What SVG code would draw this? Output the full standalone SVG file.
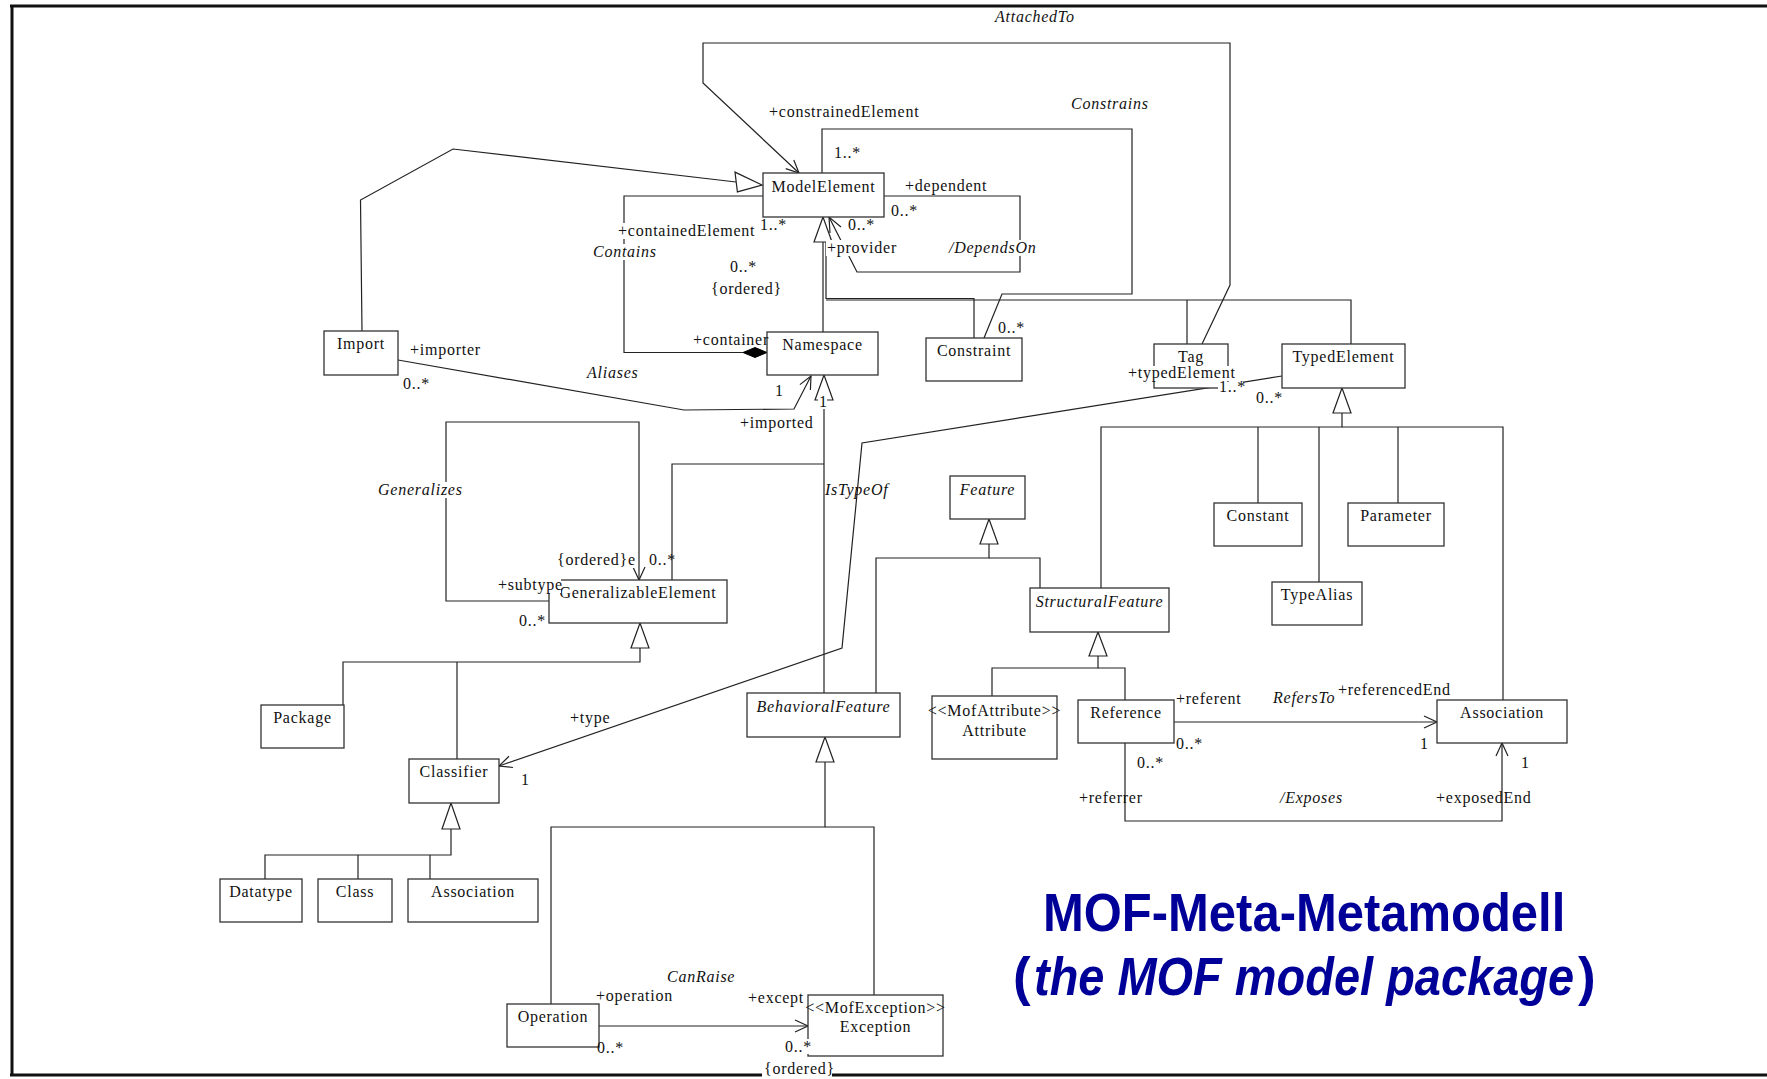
<svg xmlns="http://www.w3.org/2000/svg" width="1767" height="1079" viewBox="0 0 1767 1079">
  <style>
    .frame { fill: none; stroke: #111; stroke-width: 3; }
    .node rect { fill: #fff; stroke: #333; stroke-width: 1.3; }
    .node text { font-family: "Liberation Serif", "Times New Roman", serif; font-size: 16px; letter-spacing: 0.75px; fill: #111; text-anchor: middle; }
    .lbl { font-family: "Liberation Serif", "Times New Roman", serif; font-size: 16px; letter-spacing: 0.75px; fill: #111; }
    .it { font-style: italic; }
    .connectors polyline, .connectors line { fill: none; stroke: #222; stroke-width: 1.2; }
    .connectors .tri { fill: #fff; stroke: #222; stroke-width: 1.2; }
    .connectors .dia { fill: #000; stroke: #000; stroke-width: 1; }
    .bg { fill: #fff; }
    .title { font-family: "Liberation Sans", Arial, sans-serif; font-size: 53px; font-weight: bold; fill: #000099; }
  </style>

  <!-- page frame -->
  <g id="frame">
    <line class="frame" x1="10" y1="6" x2="1767" y2="6"/>
    <line class="frame" x1="12" y1="5" x2="12" y2="1076"/>
    <line class="frame" x1="10" y1="1075" x2="1767" y2="1075"/>
  </g>

  <!-- associations and generalizations -->
  <g id="connectors" class="connectors">
    <!-- AttachedTo: Tag -> ModelElement -->
    <polyline points="1202,344 1230,285 1230,43 703,43 703,83 799,173"/>
    <polyline points="793.8,160 799,173 785.7,168.6"/>
    <!-- Constrains: Constraint -> ModelElement -->
    <polyline points="984,338 1002,294 1132,294 1132,129 822,129 822,173"/>
    <!-- DependsOn (self association) -->
    <polyline points="884,196 1020,196 1020,272 857,272 829,217"/>
    <polyline points="830,233 829,217 841,227"/>
    <!-- Contains: Namespace (composite) - ModelElement -->
    <polyline points="763,196 624,196 624,352.5 743,352.5"/>
    <polygon class="dia" points="767,352.5 755,347.5 743,352.5 755,357.5"/>
    <!-- Import generalizes ModelElement -->
    <polyline points="362,331 360.5,200 453,149 736,182"/>
    <polygon class="tri" points="762,185 735,172.1 737.4,191.9"/>
    <!-- Aliases: Import -> Namespace -->
    <polyline points="398,360 684,410 794,409 811,376"/>
    <polyline points="799.9,384.6 811,376 810.4,390"/>
    <!-- ModelElement subclasses -->
    <line x1="823" y1="242" x2="823" y2="332"/>
    <polyline points="826,242 826,298.5 974,298.5 974,338"/>
    <polyline points="826,300 1351,300 1351,344"/>
    <line x1="1187" y1="300" x2="1187" y2="344"/>
    <polygon class="tri" points="823,217 814,242 832,242"/>
    <!-- Namespace subclasses -->
    <line x1="824" y1="400" x2="824" y2="693"/>
    <polyline points="824,464 672,464 672,580"/>
    <polygon class="tri" points="824,375 815,400 833,400"/>
    <!-- Generalizes: GeneralizableElement self association -->
    <polyline points="549,601 446,601 446,422 639,422 639,580"/>
    <polyline points="633,567 639,580 645,567"/>
    <!-- GeneralizableElement subclasses -->
    <polyline points="640,648 640,662 343,662 343,705"/>
    <line x1="457" y1="662" x2="457" y2="759"/>
    <polygon class="tri" points="640,623 631,648 649,648"/>
    <!-- Classifier subclasses -->
    <polyline points="451,829 451,855 265,855 265,879"/>
    <line x1="358" y1="855" x2="358" y2="879"/>
    <line x1="430" y1="855" x2="430" y2="879"/>
    <polygon class="tri" points="451,803 442,829 460,829"/>
    <!-- IsTypeOf: TypedElement -> Classifier -->
    <polyline points="1282,376 862,443 842,648 499,766"/>
    <polyline points="509,756.3 499,766 513,767.5"/>
    <!-- Feature subclasses -->
    <polyline points="989,544 989,558 876,558 876,693"/>
    <polyline points="989,558 1040,558 1040,588"/>
    <polygon class="tri" points="989,519 980,544 998,544"/>
    <!-- TypedElement subclasses -->
    <polyline points="1342,413 1342,427 1101,427 1101,588"/>
    <polyline points="1342,427 1503,427 1503,700"/>
    <line x1="1258" y1="427" x2="1258" y2="503"/>
    <line x1="1319" y1="427" x2="1319" y2="582"/>
    <line x1="1398" y1="427" x2="1398" y2="503"/>
    <polygon class="tri" points="1342,388 1333,413 1351,413"/>
    <!-- StructuralFeature subclasses -->
    <polyline points="1098,656 1098,668 992,668 992,696"/>
    <polyline points="1098,668 1125,668 1125,700"/>
    <polygon class="tri" points="1098,632 1089,656 1107,656"/>
    <!-- RefersTo: Reference -> Association -->
    <line x1="1174" y1="722" x2="1437" y2="722"/>
    <polyline points="1424,716 1437,722 1424,728"/>
    <!-- Exposes: Reference -> Association -->
    <polyline points="1125,743 1125,821 1502,821 1502,743"/>
    <polyline points="1496,756 1502,743 1508,756"/>
    <!-- BehavioralFeature subclasses -->
    <polyline points="825,762 825,827 551,827 551,1004"/>
    <polyline points="825,827 874,827 874,995"/>
    <polygon class="tri" points="825,737 816,762 834,762"/>
    <!-- CanRaise: Operation -> Exception -->
    <line x1="599" y1="1026" x2="808" y2="1026"/>
    <polyline points="795,1020 808,1026 795,1032"/>
  </g>

  <!-- classes -->
  <g id="ModelElement" class="node"><rect x="763" y="173" width="121" height="44"/><text x="823.5" y="192">ModelElement</text></g>
  <g id="Namespace" class="node"><rect x="767" y="332" width="111" height="43"/><text x="822.5" y="350">Namespace</text></g>
  <g id="Import" class="node"><rect x="324" y="331" width="74" height="44"/><text x="361" y="349">Import</text></g>
  <g id="Constraint" class="node"><rect x="926" y="338" width="96" height="43"/><text x="974" y="356">Constraint</text></g>
  <g id="Tag" class="node"><rect x="1154" y="344" width="74" height="44"/><text x="1191" y="362">Tag</text></g>
  <g id="TypedElement" class="node"><rect x="1282" y="344" width="123" height="44"/><text x="1343.5" y="362">TypedElement</text></g>
  <g id="GeneralizableElement" class="node"><rect x="549" y="580" width="178" height="43"/><text x="638" y="598">GeneralizableElement</text></g>
  <g id="Feature" class="node"><rect x="950" y="476" width="75" height="43"/><text class="it" x="987.5" y="495">Feature</text></g>
  <g id="StructuralFeature" class="node"><rect x="1030" y="588" width="139" height="44"/><text class="it" x="1099.5" y="607">StructuralFeature</text></g>
  <g id="Constant" class="node"><rect x="1214" y="503" width="88" height="43"/><text x="1258" y="521">Constant</text></g>
  <g id="Parameter" class="node"><rect x="1348" y="503" width="96" height="43"/><text x="1396" y="521">Parameter</text></g>
  <g id="TypeAlias" class="node"><rect x="1272" y="582" width="90" height="43"/><text x="1317" y="600">TypeAlias</text></g>
  <g id="Package" class="node"><rect x="261" y="705" width="83" height="43"/><text x="302.5" y="723">Package</text></g>
  <g id="Classifier" class="node"><rect x="409" y="759" width="90" height="44"/><text x="454" y="777">Classifier</text></g>
  <g id="Datatype" class="node"><rect x="220" y="879" width="82" height="43"/><text x="261" y="897">Datatype</text></g>
  <g id="Class" class="node"><rect x="318" y="879" width="74" height="43"/><text x="355" y="897">Class</text></g>
  <g id="AssociationClassifier" class="node"><rect x="408" y="879" width="130" height="43"/><text x="473" y="897">Association</text></g>
  <g id="BehavioralFeature" class="node"><rect x="747" y="693" width="153" height="44"/><text class="it" x="823.5" y="712">BehavioralFeature</text></g>
  <g id="Attribute" class="node"><rect x="932" y="696" width="125" height="63"/><text x="994.5" y="716">&lt;&lt;MofAttribute&gt;&gt;</text><text x="994.5" y="736">Attribute</text></g>
  <g id="Reference" class="node"><rect x="1078" y="700" width="96" height="43"/><text x="1126" y="718">Reference</text></g>
  <g id="Association" class="node"><rect x="1437" y="700" width="130" height="43"/><text x="1502" y="718">Association</text></g>
  <g id="Operation" class="node"><rect x="507" y="1004" width="92" height="43"/><text x="553" y="1022">Operation</text></g>
  <g id="Exception" class="node"><rect x="808" y="995" width="135" height="61"/><text x="875.5" y="1013">&lt;&lt;MofException&gt;&gt;</text><text x="875.5" y="1032">Exception</text></g>

  <!-- association names, role names and multiplicities -->
  <g id="labels">
    <rect class="bg" x="617" y="223" width="140" height="16"/>
    <rect class="bg" x="592" y="244" width="63" height="16"/>
    <rect class="bg" x="948" y="240" width="90" height="16"/>
    <rect class="bg" x="826" y="240" width="67" height="16"/>
    <rect class="bg" x="1127" y="366" width="108" height="15"/>
    <rect class="bg" x="1218" y="382" width="25" height="11"/>
    <rect class="bg" x="818" y="397" width="9" height="12"/>
    <rect class="bg" x="377" y="482" width="87" height="16"/>
    <rect class="bg" x="497" y="578" width="64" height="15"/>
    <rect class="bg" x="556" y="553" width="78" height="15"/>
    <rect class="bg" x="762" y="1061" width="70" height="17"/>
    <rect class="bg" x="783" y="1039" width="26" height="15"/>

    <text class="lbl it" x="995" y="22">AttachedTo</text>
    <text class="lbl" x="769" y="117">+constrainedElement</text>
    <text class="lbl it" x="1071" y="109">Constrains</text>
    <text class="lbl" x="834" y="158">1..*</text>
    <text class="lbl" x="905" y="191">+dependent</text>
    <text class="lbl" x="891" y="216">0..*</text>
    <text class="lbl" x="848" y="230">0..*</text>
    <text class="lbl" x="827" y="253">+provider</text>
    <text class="lbl it" x="949" y="253">/DependsOn</text>
    <text class="lbl" x="618" y="236">+containedElement</text>
    <text class="lbl" x="760" y="230">1..*</text>
    <text class="lbl it" x="593" y="257">Contains</text>
    <text class="lbl" x="730" y="272">0..*</text>
    <text class="lbl" x="711" y="294">{ordered}</text>
    <text class="lbl" x="693" y="345">+container</text>
    <text class="lbl" x="410" y="355">+importer</text>
    <text class="lbl" x="403" y="389">0..*</text>
    <text class="lbl it" x="587" y="378">Aliases</text>
    <text class="lbl" x="775" y="396">1</text>
    <text class="lbl" x="819" y="407">1</text>
    <text class="lbl" x="740" y="428">+imported</text>
    <text class="lbl" x="998" y="333">0..*</text>
    <text class="lbl" x="1128" y="378">+typedElement</text>
    <text class="lbl" x="1219" y="392">1..*</text>
    <text class="lbl" x="1256" y="403">0..*</text>
    <text class="lbl it" x="378" y="495">Generalizes</text>
    <text class="lbl it" x="825" y="495">IsTypeOf</text>
    <text class="lbl" x="557" y="565">{ordered}e</text>
    <text class="lbl" x="649" y="565">0..*</text>
    <text class="lbl" x="498" y="590">+subtype</text>
    <text class="lbl" x="519" y="626">0..*</text>
    <text class="lbl" x="570" y="723">+type</text>
    <text class="lbl" x="521" y="785">1</text>
    <text class="lbl" x="1176" y="704">+referent</text>
    <text class="lbl it" x="1273" y="703">RefersTo</text>
    <text class="lbl" x="1338" y="695">+referencedEnd</text>
    <text class="lbl" x="1176" y="749">0..*</text>
    <text class="lbl" x="1420" y="749">1</text>
    <text class="lbl" x="1137" y="768">0..*</text>
    <text class="lbl" x="1521" y="768">1</text>
    <text class="lbl" x="1079" y="803">+referrer</text>
    <text class="lbl it" x="1280" y="803">/Exposes</text>
    <text class="lbl" x="1436" y="803">+exposedEnd</text>
    <text class="lbl it" x="667" y="982">CanRaise</text>
    <text class="lbl" x="596" y="1001">+operation</text>
    <text class="lbl" x="748" y="1003">+except</text>
    <text class="lbl" x="597" y="1053">0..*</text>
    <text class="lbl" x="785" y="1052">0..*</text>
    <text class="lbl" x="764" y="1074">{ordered}</text>
  </g>

  <!-- heading, horizontally condensed -->
  <g id="title">
    <text class="title" transform="translate(1043,931) scale(0.924,1)">MOF-Meta-Metamodell</text>
    <text class="title" x="1013" y="995">(</text>
    <text class="title" font-style="italic" transform="translate(1034,995) scale(0.886,1)">the MOF model package</text>
    <text class="title" x="1578" y="995">)</text>
  </g>
</svg>
